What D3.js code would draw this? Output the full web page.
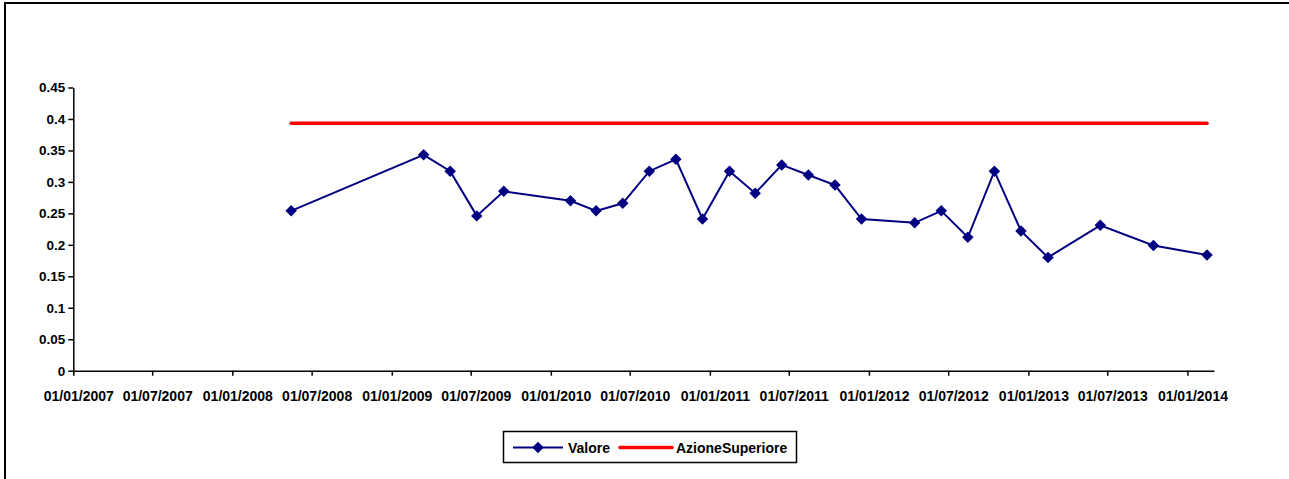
<!DOCTYPE html>
<html>
<head>
<meta charset="utf-8">
<script src="https://cdn.jsdelivr.net/npm/d3@7"></script>
<style>
  html, body { margin: 0; padding: 0; background: #fff; }
  svg { display: block; }
  text { font-family: "Liberation Sans", Arial, sans-serif; font-weight: bold; }
</style>
</head>
<body>
<svg id="chart" width="1289" height="479"></svg>
<script>
// ---- data ----
const dates = ["2008-05-15","2009-03-15","2009-05-15","2009-07-15","2009-09-15","2010-02-15","2010-04-15","2010-06-15","2010-08-15","2010-10-15","2010-12-15","2011-02-15","2011-04-15","2011-06-15","2011-08-15","2011-10-15","2011-12-15","2012-04-15","2012-06-15","2012-08-15","2012-10-15","2012-12-15","2013-02-15","2013-06-15","2013-10-15","2014-02-15"];
const valore = [0.254, 0.343, 0.317, 0.246, 0.285, 0.270, 0.254, 0.266, 0.317, 0.336, 0.241, 0.317, 0.282, 0.327, 0.311, 0.295, 0.241, 0.235, 0.254, 0.212, 0.317, 0.222, 0.180, 0.231, 0.199, 0.184];
const azioneSuperiore = dates.map(() => 0.393);
const yTicks = [0, 0.05, 0.1, 0.15, 0.2, 0.25, 0.3, 0.35, 0.4, 0.45];
const seriesNames = ["Valore", "AzioneSuperiore"];

const parse = d3.utcParse("%Y-%m-%d");
const fmt = d3.utcFormat("%d/%m/%Y");
const xDates = dates.map(parse);

const svg = d3.select("#chart");

// chart border (left and top visible)
svg.append("path")
  .attr("d", "M5,479 L5,3 L1289,3")
  .attr("fill", "none").attr("stroke", "#000").attr("stroke-width", 2);

const x = d3.scaleUtc()
  .domain([parse("2007-01-01"), parse("2014-03-03")])
  .range([73.3, 1214]);
const y = d3.scaleLinear().domain([0, 0.45]).range([370.7, 87.5]);

const xTickVals = d3.utcMonth.every(6).range(parse("2007-01-01"), parse("2014-01-02"));

// axes
const yAxis = svg.append("g").attr("transform", "translate(73.3,0)")
  .call(d3.axisLeft(y).tickValues(yTicks).tickSize(5).tickPadding(3)
    .tickFormat(d => String(+d.toFixed(2))).tickSizeOuter(0));
yAxis.select(".domain").attr("stroke-width", 1.5);
yAxis.selectAll(".tick line").attr("stroke-width", 1.5);
yAxis.selectAll("text").attr("font-size", "13.5px").attr("fill", "#000");

const xAxis = svg.append("g").attr("transform", "translate(0,370.7)")
  .call(d3.axisBottom(x).tickValues(xTickVals).tickSize(5).tickPadding(15.3)
    .tickFormat(fmt).tickSizeOuter(0));
xAxis.select(".domain").attr("stroke-width", 1.5);
xAxis.selectAll(".tick line").attr("stroke-width", 1.5);
xAxis.selectAll("text").attr("font-size", "14px").attr("fill", "#000").attr("dx", 5);

// red line
const redData = xDates.map((d, i) => [d, azioneSuperiore[i]]);
svg.append("path")
  .datum(redData)
  .attr("fill", "none").attr("stroke", "#FF0000").attr("stroke-width", 3.5)
  .attr("stroke-linecap", "round")
  .attr("d", d3.line().x(d => x(d[0])).y(d => y(d[1])));

// valore line
const blueData = xDates.map((d, i) => [d, valore[i]]);
svg.append("path")
  .datum(blueData)
  .attr("fill", "none").attr("stroke", "#000080").attr("stroke-width", 2)
  .attr("d", d3.line().x(d => x(d[0])).y(d => y(d[1])));

const diamond = d3.symbol().type(d3.symbolDiamond2).size(84);
svg.append("g").selectAll("path")
  .data(blueData).join("path")
  .attr("d", diamond)
  .attr("transform", d => `translate(${x(d[0])},${y(d[1])})`)
  .attr("fill", "#000080");

// legend
const lg = svg.append("g");
lg.append("rect").attr("x", 503.5).attr("y", 431.5).attr("width", 293).attr("height", 31)
  .attr("fill", "#fff").attr("stroke", "#000").attr("stroke-width", 1.5);
lg.append("line").attr("x1", 513).attr("x2", 563).attr("y1", 447.5).attr("y2", 447.5)
  .attr("stroke", "#000080").attr("stroke-width", 2);
lg.append("path").attr("d", diamond).attr("transform", "translate(538,447.5)").attr("fill", "#000080");
lg.append("text").attr("x", 568).attr("y", 452.5).attr("font-size", "14px").text(seriesNames[0]);
lg.append("line").attr("x1", 620).attr("x2", 672).attr("y1", 447.5).attr("y2", 447.5)
  .attr("stroke", "#FF0000").attr("stroke-width", 3.5).attr("stroke-linecap", "round");
lg.append("text").attr("x", 676).attr("y", 452.5).attr("font-size", "14px").text(seriesNames[1]);
</script>
</body>
</html>
